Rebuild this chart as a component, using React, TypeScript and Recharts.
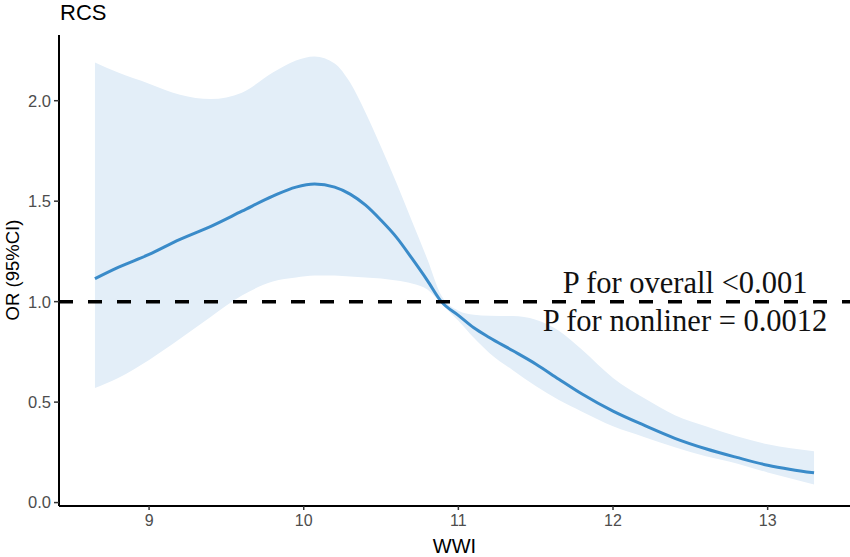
import React from "react";
import {
  ComposedChart,
  Area,
  Line,
  XAxis,
  YAxis,
  ReferenceLine,
  Customized,
} from "recharts";

// WWI grid and the fitted odds ratio with its 95% CI
const wwi = [8.65, 8.8, 9.0, 9.2, 9.4, 9.6, 9.8, 9.95, 10.07, 10.2, 10.3, 10.4, 10.5, 10.6, 10.7, 10.8, 10.89, 11.0, 11.1, 11.2, 11.35, 11.5, 11.65, 11.8, 12.0, 12.2, 12.4, 12.6, 12.8, 13.0, 13.15, 13.3];
const orValue = [1.114, 1.17, 1.235, 1.31, 1.375, 1.45, 1.525, 1.57, 1.585, 1.57, 1.535, 1.48, 1.405, 1.32, 1.215, 1.105, 1.0, 0.932, 0.87, 0.822, 0.757, 0.69, 0.614, 0.54, 0.455, 0.385, 0.32, 0.268, 0.225, 0.186, 0.165, 0.148];
const ciLower = [0.57, 0.62, 0.71, 0.815, 0.925, 1.03, 1.1, 1.12, 1.13, 1.13, 1.125, 1.12, 1.115, 1.105, 1.09, 1.06, 0.99, 0.905, 0.82, 0.745, 0.66, 0.58, 0.51, 0.452, 0.38, 0.327, 0.275, 0.23, 0.195, 0.15, 0.12, 0.09];
const ciUpper = [2.19, 2.14, 2.085, 2.03, 2.008, 2.04, 2.14, 2.2, 2.22, 2.185, 2.09, 1.94, 1.77, 1.59, 1.4, 1.21, 1.03, 0.955, 0.935, 0.93, 0.928, 0.91, 0.855, 0.76, 0.62, 0.52, 0.435, 0.38, 0.33, 0.29, 0.27, 0.255];

const xTicks = [9, 10, 11, 12, 13];
const yTicks = [0, 0.5, 1, 1.5, 2];

const data = wwi.map((x, i) => ({
  x,
  or: orValue[i],
  ci: [ciLower[i], ciUpper[i]],
}));

const sans = "'Liberation Sans', Arial, sans-serif";
const serif = "'Liberation Serif', 'Times New Roman', serif";

const PLabel = (props: any) => {
  const vb = props.viewBox || {};
  const cx = vb.x + vb.width * 0.7915;
  return (
    <g fontFamily={serif} fontSize={30.5} fill="#111" textAnchor="middle">
      <text x={cx} y={vb.y - 9}>P for overall {"<"}0.001</text>
      <text x={cx} y={vb.y + 29}>P for nonliner = 0.0012</text>
    </g>
  );
};

const Extras = () => (
  <g>
    <text x={60} y={20} fontFamily={sans} fontSize={22} fill="#000">RCS</text>
    <text
      x={19}
      y={270}
      transform="rotate(-90, 19, 270)"
      textAnchor="middle"
      fontFamily={sans}
      fontSize={18.5}
      fill="#000"
    >
      OR (95%CI)
    </text>
  </g>
);

export default function App() {
  return (
    <div style={{ position: "absolute", left: 0, top: 0, background: "#fff" }}>
      <ComposedChart width={850} height={557} data={data} margin={{ top: 35, right: 0, bottom: 0, left: 0 }}>
        <XAxis
          type="number"
          dataKey="x"
          domain={[8.4175, 13.5325]}
          ticks={xTicks}
          allowDataOverflow
          height={51}
          axisLine={{ stroke: "#000", strokeWidth: 2 }}
          tickLine={{ stroke: "#333", strokeWidth: 1.5 }}
          tickSize={4}
          tickMargin={5}
          tick={{ fill: "#4d4d4d", fontSize: 16, fontFamily: sans }}
          label={{ value: "WWI", position: "insideBottom", offset: 4, fill: "#000", fontSize: 20, fontFamily: sans }}
        />
        <YAxis
          type="number"
          domain={[-0.017, 2.327]}
          ticks={yTicks}
          allowDataOverflow
          width={59}
          axisLine={{ stroke: "#000", strokeWidth: 2 }}
          tickLine={{ stroke: "#333", strokeWidth: 1.5 }}
          tickSize={5}
          tickMargin={3}
          tickFormatter={(v: number) => v.toFixed(1)}
          tick={{ fill: "#4d4d4d", fontSize: 16.5, fontFamily: sans }}
        />
        <Area
          type="monotone"
          dataKey="ci"
          stroke="none"
          fill="#e3eef8"
          fillOpacity={1}
          isAnimationActive={false}
        />
        <Line
          type="monotone"
          dataKey="or"
          stroke="#3a8bc9"
          strokeWidth={3}
          dot={false}
          activeDot={false}
          isAnimationActive={false}
        />
        <ReferenceLine y={1} stroke="#000" strokeWidth={3.5} strokeDasharray="14 15" label={<PLabel />} />
        <Customized component={Extras} />
      </ComposedChart>
    </div>
  );
}
